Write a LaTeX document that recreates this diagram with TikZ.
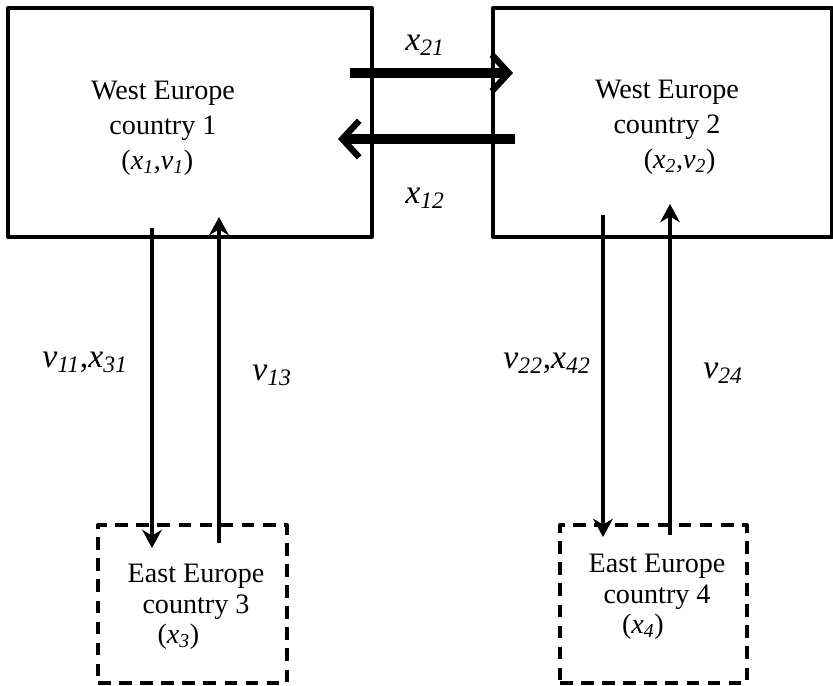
\documentclass[tikz,border=0pt]{standalone}
\usepackage{fontspec}
\setmainfont{Liberation Serif}
\usetikzlibrary{arrows.meta}
\newcommand{\flow}[2]{\textit{#1}\textsubscript{\textit{#2}}}

\begin{document}
\begin{tikzpicture}[x=0.025cm, y=-0.025cm, line join=round,
	boxtext/.style={font=\fontsize{20}{25}\selectfont, align=center, inner sep=0pt},
	flowlabel/.style={font=\fontsize{24}{28}\selectfont, inner sep=0pt},
	west/.style={draw, line width=2.8pt, inner sep=0pt, outer sep=0pt, minimum height=5.725cm},
	east/.style={west, dash pattern=on 9pt off 6pt},
	bigarrow/.style={line width=7pt, -{Straight Barb[length=12pt, width=26pt, line width=4.5pt]}},
	linkarrow/.style={line width=3.2pt, -{Stealth[length=13pt, width=14pt]}}]
	
	\useasboundingbox (0,0) rectangle (833,685);
	
	% the four countries
	\node[west, minimum width=9.1cm] (w1) at (190,122.5) {};
	\node[west, minimum width=8.475cm] (w2) at (662.5,122.5) {};
	\node[east, minimum width=4.725cm, minimum height=3.95cm] (e3) at (192.5,604) {};
	\node[east, minimum width=4.675cm, minimum height=3.95cm] (e4) at (653.5,604) {};
	
	\node[boxtext] (t1) at (163,128) {West Europe\\country 1\\\hspace*{-8pt}(\flow{x}{1},\flow{v}{1})};
	\node[boxtext] (t2) at (667,127) {West Europe\\country 2\\\hspace*{18pt}(\flow{x}{2},\flow{v}{2})};
	\node[boxtext, font=\fontsize{20}{21.5}\selectfont] (t3) at (196,607) {East Europe\\country 3\\\hspace*{-25pt}(\flow{x}{3})};
	\node[boxtext, font=\fontsize{20}{21.5}\selectfont] (t4) at (657,597) {East Europe\\country 4\\\hspace*{-20pt}(\flow{x}{4})};
	
	% arrow ends
	\coordinate (p21) at (350,73);   \coordinate (q21) at (513,73);
	\coordinate (p12) at (515,139);  \coordinate (q12) at (338,139);
	\coordinate (d1) at (152,228);   \coordinate (d3) at (152,548);
	\coordinate (u3) at (219,543);   \coordinate (u1) at (219,217);
	\coordinate (d2) at (603,215);   \coordinate (d4) at (603,537);
	\coordinate (u4) at (670,535);   \coordinate (u2) at (670,204);
	
	\draw[bigarrow] (p21) -- (q21);
	\draw[bigarrow] (p12) -- (q12);
	\draw[linkarrow] (d1) -- (d3);
	\draw[linkarrow] (u3) -- (u1);
	\draw[linkarrow] (d2) -- (d4);
	\draw[linkarrow] (u4) -- (u2);
	
	\node[flowlabel] (l21) at (425,45) {\flow{x}{21}};
	\node[flowlabel] (l12) at (425,198) {\flow{x}{12}};
	\node[flowlabel] (l11) at (85,362) {\flow{v}{11},\flow{x}{31}};
	\node[flowlabel] (l13) at (272,375) {\flow{v}{13}};
	\node[flowlabel] (l22) at (547,363) {\flow{v}{22},\flow{x}{42}};
	\node[flowlabel] (l24) at (723,373) {\flow{v}{24}};
\end{tikzpicture}
\end{document}
